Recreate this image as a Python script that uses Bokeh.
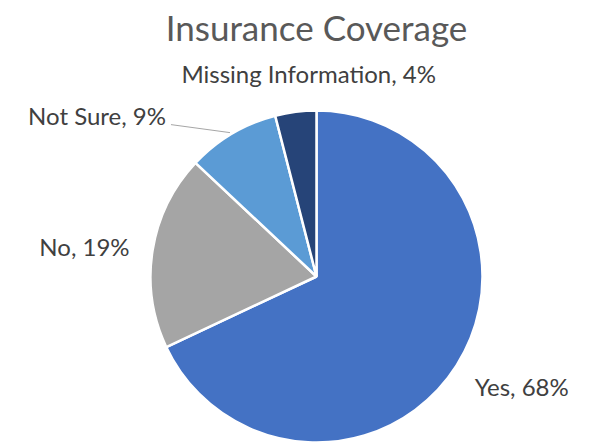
import math
from bokeh.plotting import figure
from bokeh.models import ColumnDataSource
from bokeh.core.properties import value
from bokeh.embed import file_html
from bokeh.resources import INLINE

# ---- data ----
categories = ["Yes", "No", "Not Sure", "Missing Information"]
percents = [68, 19, 9, 4]
colors = ["#4472C4", "#A5A5A5", "#5B9BD5", "#264478"]
title_text = "Insurance Coverage"

# ---- layout / style ----
W, H = 590, 443
cx, cy, r = 316, 167, 166
label_font = "Lato"
label_size = "24px"
# per-label offset from the slice's outer edge at mid-angle, and alignment
label_offsets = [(18, -21), (-23, 4), (-66, 18), (13, 38)]
label_align = ["left", "right", "right", "center"]

p = figure(width=W, height=H, x_range=(0, W), y_range=(0, H),
           output_backend="svg", toolbar_location=None, min_border=0)
p.axis.visible = False
p.grid.visible = False
p.outline_line_color = None
p.background_fill_color = "white"
p.border_fill_color = "white"

total = sum(percents)
starts, ends, mids = [], [], []
a = math.pi / 2
for v in percents:
    span = 2 * math.pi * v / total
    starts.append(a)
    ends.append(a - span)
    mids.append(a - span / 2)
    a -= span

src = ColumnDataSource(dict(start=starts, end=ends, color=colors))
p.wedge(x=cx, y=cy, radius=r, start_angle="start", end_angle="end",
        direction="clock", fill_color="color", line_color="white",
        line_width=2.5, source=src)

lx, ly, texts = [], [], []
for i, (c, v) in enumerate(zip(categories, percents)):
    ex = cx + r * math.cos(mids[i])
    ey = cy + r * math.sin(mids[i])
    lx.append(ex + label_offsets[i][0])
    ly.append(ey + label_offsets[i][1])
    texts.append(f"{c}, {v}%")
    p.text(x=[lx[-1]], y=[ly[-1]], text=[texts[-1]], text_align=label_align[i],
           text_baseline="middle", text_font=value(label_font),
           text_font_size=label_size, text_color="#404040")

# leader line for "Not Sure"
i = 2
ex = cx + r * math.cos(mids[i])
ey = cy + r * math.sin(mids[i])
p.line(x=[lx[i] + 5, ex - 2], y=[ly[i] - 9, ey + 1], line_color="#A6A6A6", line_width=1)

# title
p.text(x=[cx], y=[H - 26], text=[title_text], text_align="center",
       text_baseline="middle", text_font=value(label_font),
       text_font_size="35px", text_color="#595959")

open("out.html", "w").write(file_html(p, INLINE))
